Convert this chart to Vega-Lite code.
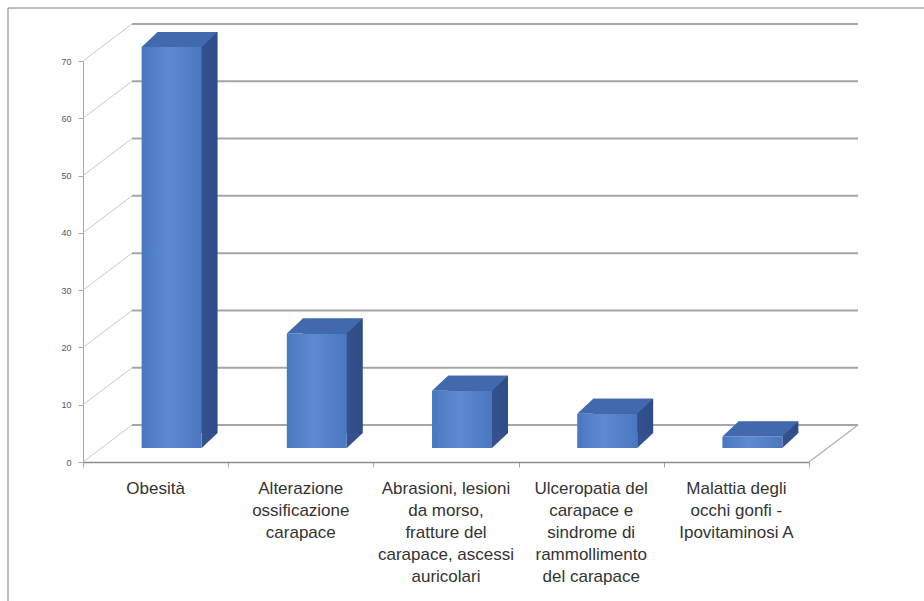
{
  "$schema": "https://vega.github.io/schema/vega-lite/v6.json",
  "width": 726,
  "height": 401,
  "autosize": {"type": "none"},
  "padding": {"left": 83, "top": 61, "right": 115, "bottom": 139},
  "background": "white",
  "config": {"view": {"stroke": null}, "font": "Liberation Sans"},
  "data": {
    "values": [
      {"categoria": "Obesità", "casi": 70},
      {"categoria": "Alterazione\nossificazione\ncarapace", "casi": 20},
      {"categoria": "Abrasioni, lesioni\nda morso,\nfratture del\ncarapace, ascessi\nauricolari", "casi": 10},
      {"categoria": "Ulceropatia del\ncarapace e\nsindrome di\nrammollimento\ndel carapace", "casi": 6},
      {"categoria": "Malattia degli\nocchi gonfi -\nIpovitaminosi A", "casi": 2}
    ]
  },
  "resolve": {"scale": {"x": "independent"}},
  "layer": [
    {
      "data": {"values": [{"v": 0}, {"v": 10}, {"v": 20}, {"v": 30}, {"v": 40}, {"v": 50}, {"v": 60}, {"v": 70}]},
      "layer": [
        {
          "mark": {"type": "rule", "color": "#a6a6a6", "strokeWidth": 2, "xOffset": 49, "x2Offset": 49, "yOffset": -37, "y2Offset": -37},
          "encoding": {
            "x": {
              "datum": 0,
              "type": "quantitative",
              "scale": {"domain": [0, 1], "nice": false, "zero": false},
              "axis": {"orient": "bottom", "title": null, "values": [0, 0.2, 0.4, 0.6, 0.8, 1], "labels": false, "domain": false, "grid": false, "ticks": true, "tickSize": 5, "tickColor": "#a6a6a6"}
            },
            "x2": {"datum": 1},
            "y": {"field": "v", "type": "quantitative", "scale": {"domain": [0, 70], "nice": false}},
            "y2": {"field": "v"}
          }
        },
        {
          "mark": {"type": "rule", "color": "#c9c9c9", "strokeWidth": 1, "x2Offset": 49, "y2Offset": -37},
          "encoding": {
            "x": {"datum": 0, "type": "quantitative"},
            "x2": {"datum": 0},
            "y": {"field": "v", "type": "quantitative"},
            "y2": {"field": "v"}
          }
        },
        {
          "data": {"values": [{}]},
          "mark": {"type": "rule", "color": "#b0b0b0", "strokeWidth": 1.2, "x2Offset": 49, "y2Offset": -37},
          "encoding": {
            "x": {"datum": 1, "type": "quantitative"},
            "x2": {"datum": 1},
            "y": {"datum": 0, "type": "quantitative"},
            "y2": {"datum": 0}
          }
        },
        {
          "data": {"values": [{}]},
          "mark": {"type": "rule", "color": "#7f7f7f", "strokeWidth": 1},
          "encoding": {
            "x": {"datum": -0.1033, "type": "quantitative"},
            "x2": {"datum": 1.3},
            "y": {"datum": 79.25, "type": "quantitative"},
            "y2": {"datum": 79.25}
          }
        },
        {
          "data": {"values": [{}]},
          "mark": {"type": "rule", "color": "#7f7f7f", "strokeWidth": 1},
          "encoding": {
            "x": {"datum": -0.1033, "type": "quantitative"},
            "x2": {"datum": -0.1033},
            "y": {"datum": 79.25, "type": "quantitative"},
            "y2": {"datum": -40}
          }
        }
      ]
    },
    {
      "encoding": {
        "x": {
          "field": "categoria",
          "type": "nominal",
          "sort": null,
          "scale": {"type": "band", "paddingInner": 0.587, "paddingOuter": 0.2935},
          "axis": {
            "orient": "bottom",
            "title": null,
            "labelAngle": 0,
            "labelExpr": "split(datum.label, '\\n')",
            "labelFontSize": 17,
            "labelColor": "#333333",
            "labelLineHeight": 22,
            "labelPadding": 18,
            "labelLimit": 0,
            "labelOverlap": false,
            "ticks": false,
            "tickSize": 0,
            "domainColor": "#8c8c8c",
            "domainWidth": 1.5
          }
        }
      },
      "layer": [
        {
          "mark": {"type": "bar", "xOffset": 32, "yOffset": -29, "y2Offset": -29,
            "color": {"gradient": "linear", "x1": 0, "x2": 1, "stops": [{"offset": 0, "color": "#3e5f9e"}, {"offset": 1, "color": "#2f4c86"}]}},
          "encoding": {
            "y": {"field": "casi", "type": "quantitative", "scale": {"domain": [0, 70], "nice": false},
              "axis": {"title": null, "values": [0, 10, 20, 30, 40, 50, 60, 70], "grid": false, "labelFontSize": 9, "labelColor": "#595959", "labelPadding": 7, "tickSize": 5, "tickColor": "#a6a6a6", "domainColor": "#a6a6a6"}}
          }
        },
        {
          "mark": {"type": "point", "shape": "M 1 0 L 1.533 -0.5 L 1 -0.5 Z", "size": 3600, "filled": true, "opacity": 1, "color": "#33518c", "strokeWidth": 0, "xOffset": 16, "yOffset": -14},
          "encoding": {"y": {"datum": 0, "type": "quantitative"}}
        },
        {
          "mark": {"type": "bar", "xOffset": 16, "yOffset": -14, "y2Offset": -14,
            "color": {"gradient": "linear", "x1": 0, "x2": 1, "stops": [{"offset": 0, "color": "#4a78c0"}, {"offset": 0.45, "color": "#5f8ad0"}, {"offset": 1, "color": "#4a77bf"}]}},
          "encoding": {"y": {"field": "casi", "type": "quantitative"}}
        },
        {
          "mark": {"type": "point", "shape": "M -1 0 L 1 0 L 1.533 -0.5 L -0.467 -0.5 Z", "size": 3600, "filled": true, "opacity": 1, "color": "#4268ad", "strokeWidth": 0, "xOffset": 16, "yOffset": -14},
          "encoding": {"y": {"field": "casi", "type": "quantitative"}}
        }
      ]
    }
  ]
}
